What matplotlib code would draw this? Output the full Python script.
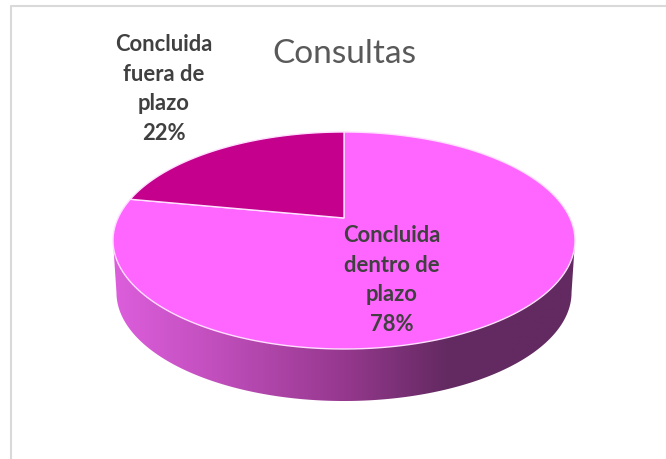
import matplotlib
matplotlib.use('Agg')
import matplotlib.pyplot as plt
import numpy as np
from matplotlib.colors import LinearSegmentedColormap
from matplotlib.patches import Polygon

# datos del grafico
categorias = ['Concluida\ndentro de\nplazo', 'Concluida\nfuera de\nplazo']
porcentajes = [78, 22]
colores = ['#FF66FF', '#C4008C']
titulo = 'Consultas'

W, H = 666, 459
fig = plt.figure(figsize=(W / 100, H / 100), dpi=100)
ax = fig.add_axes([0, 0, 1, 1])
ax.set_xlim(0, W)
ax.set_ylim(H, 0)
ax.axis('off')

# vertice del pastel y perspectiva
cx, cy = 344, 218
arriba, abajo = 86, 131
c = (abajo - arriba) / (abajo + arriba)
a = arriba * (1 + c)
d = 231 * np.sqrt(1 - c ** 2)
alto = 52


def proyectar(ang):
    '''angulo medido desde arriba, sentido horario'''
    u, v = np.sin(ang), np.cos(ang)
    w = 1 + c * v
    return cx + d * u / w, cy - a * v / w


def sector(ini, fin):
    t = np.radians(np.linspace(ini, fin, 200))
    x, y = proyectar(t)
    return np.column_stack([np.r_[cx, x], np.r_[cy, y]])


# pared lateral con degradado
t = np.radians(np.linspace(0, 360, 721))
x, y = proyectar(t)
izq, der = np.argmin(x), np.argmax(x)
frente = np.arange(der, izq + 1)
xm = (x[izq] + x[der]) / 2
xb = xm + (x[frente] - xm) * 0.985
yb = y[frente] + alto
pared = np.r_[[[x[der], y[der]]], np.column_stack([xb, yb]), [[x[izq], y[izq]]]]
cmap = LinearSegmentedColormap.from_list(
    'pared', [(0, '#DC5EDC'), (0.2, '#C450C0'), (0.5, '#96388E'), (0.72, '#642A62'), (1, '#622A60')])
grad = np.linspace(0, 1, 256).reshape(1, -1)
img = ax.imshow(grad, cmap=cmap, extent=[x[izq], x[der], 420, 200], aspect='auto', zorder=1)
parche = Polygon(pared, closed=True, facecolor='none', edgecolor='none', transform=ax.transData)
ax.add_patch(parche)
img.set_clip_path(parche)
ax.set_xlim(0, W)
ax.set_ylim(H, 0)

# sectores, el primero arranca arriba en sentido horario
ini = 0
for pct, color in zip(porcentajes, colores):
    fin = ini + pct * 3.6
    ax.add_patch(Polygon(sector(ini, fin), closed=True, facecolor=color,
                         edgecolor='#FFE0FF', linewidth=1.0, zorder=2))
    ini = fin

# marco
ax.plot([11, 11, W], [H, 6, 6], color='#D9D9D9', linewidth=1.5, zorder=0)

# textos
fuente = ['Lato', 'DejaVu Sans']
ax.text(344, 54, titulo, ha='center', va='center', fontsize=24, color='#595959',
        family=fuente, zorder=3)
ax.text(392, 280, f'{categorias[0]}\n{porcentajes[0]}%', ha='center', va='center',
        fontsize=15.8, fontweight='bold', color='#404040', family=fuente,
        linespacing=1.52, zorder=3)
ax.text(164, 89, f'{categorias[1]}\n{porcentajes[1]}%', ha='center', va='center',
        fontsize=15.8, fontweight='bold', color='#404040', family=fuente,
        linespacing=1.52, zorder=3)

fig.savefig('out.png', dpi=100)
